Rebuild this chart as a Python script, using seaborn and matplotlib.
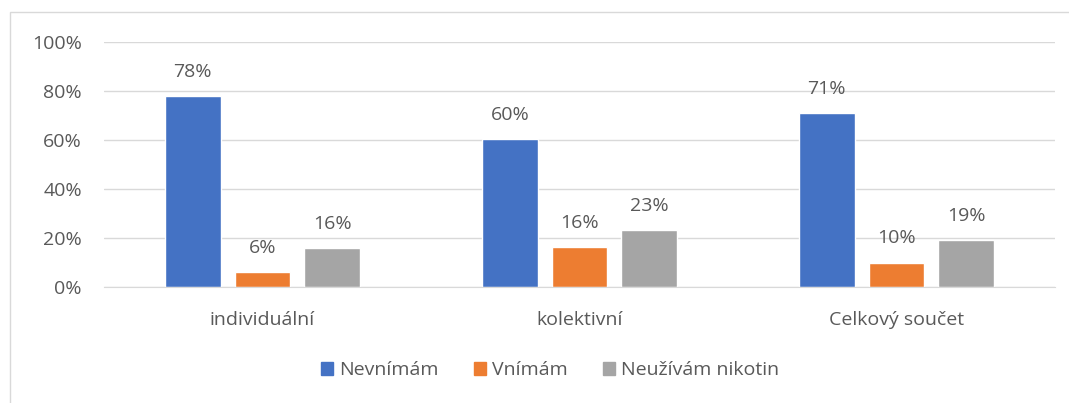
import pandas as pd
import matplotlib.pyplot as plt
import matplotlib.patches as mpatches
import seaborn as sns

# data
categories = ["individuální", "kolektivní", "Celkový součet"]
series = ["Nevnímám", "Vnímám", "Neužívám nikotin"]
nevnimam = [78, 60.4, 71]
vnimam = [6, 16.4, 10]
neuzivam = [16, 23.2, 19]
colors = ["#4472C4", "#ED7D31", "#A5A5A5"]
yticks = [0, 20, 40, 60, 80, 100]

rows = []
for i, cat in enumerate(categories):
    for name, vals in zip(series, [nevnimam, vnimam, neuzivam]):
        rows.append({"kategorie": cat, "serie": name, "hodnota": vals[i]})
df = pd.DataFrame(rows)

sns.set_style("white")
plt.rcParams["font.family"] = ["Open Sans", "DejaVu Sans"]
text_color = "#595959"
fs = 14

fig = plt.figure(figsize=(10.69, 4.03), dpi=100)
ax = fig.add_axes([104 / 1069, 1 - 287 / 403, 951 / 1069, 245 / 403])

sns.barplot(data=df, x="kategorie", y="hodnota", hue="serie", order=categories,
            hue_order=series, palette=colors, width=0.66, gap=0.2, saturation=1,
            ax=ax, legend=False)

for cont in ax.containers:
    ax.bar_label(cont, fmt="%.0f%%", padding=11, fontsize=fs, color=text_color)

ax.set_ylim(0, 100)
ax.set_xlim(-0.5, 2.5)
ax.set_yticks(yticks)
ax.set_yticklabels([f"{t}%" for t in yticks])
ax.grid(axis="y", color="#D9D9D9", linewidth=1)
ax.set_axisbelow(True)
for s in ["top", "right", "left"]:
    ax.spines[s].set_visible(False)
ax.spines["bottom"].set_color("#D9D9D9")
ax.tick_params(axis="both", length=0, labelsize=fs, labelcolor=text_color)
ax.tick_params(axis="y", pad=16)
ax.tick_params(axis="x", pad=17)
ax.set_xlabel("")
ax.set_ylabel("")

handles = [mpatches.Patch(color=c, label=s) for c, s in zip(colors, series)]
fig.legend(handles=handles, loc="center", bbox_to_anchor=(550 / 1069, 1 - 370 / 403),
           ncol=3, frameon=False, fontsize=fs, handlelength=0.65, handleheight=0.65,
           handletextpad=0.3, columnspacing=1.8, labelcolor=text_color)

# outer chart border
fig.patches.append(mpatches.Rectangle((10 / 1069, -0.05), 1.1, 1 - 12 / 403 + 0.05,
                                      transform=fig.transFigure, fill=False,
                                      edgecolor="#D9D9D9", linewidth=1))

fig.savefig("out.png", dpi=100)
